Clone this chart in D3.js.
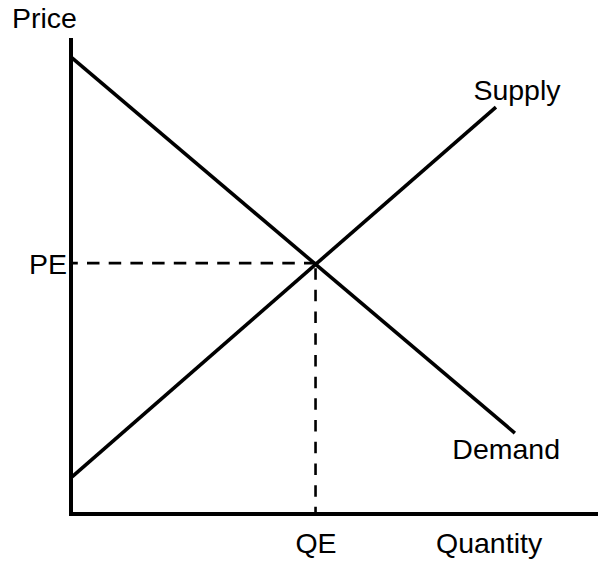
<!DOCTYPE html>
<html><head><meta charset="utf-8">
<script src="https://cdn.jsdelivr.net/npm/d3@7"></script>
<style>html,body{margin:0;padding:0;background:#fff;}svg{display:block;}</style>
</head><body>
<script>
// Data (quantity, price) in abstract units 0..100
const demand = [[0, 95.8], [84.2, 17.0]];
const supply = [[0, 7.8], [80.6, 85.5]];
const equilibrium = {q: 46.3, p: 52.7};
const priceTicks = [{v: 52.7, label: "PE"}];
const quantityTicks = [{v: 46.3, label: "QE"}];
const curveLabels = [{name: "Supply", q: 76.5, p: 87}, {name: "Demand", q: 72.5, p: 11.5}];

const W = 613, H = 578;
const svg = d3.select("body").append("svg").attr("width", W).attr("height", H);
const x = d3.scaleLinear().domain([0, 100]).range([72, 598]);
const y = d3.scaleLinear().domain([0, 100]).range([514, 38]);
const font = "Liberation Sans, Arial, sans-serif";
const fs = 28.5;

// axes
const xAxis = d3.axisBottom(x).tickValues(quantityTicks.map(d => d.v))
  .tickFormat((d, i) => quantityTicks[i].label).tickSize(0).tickSizeOuter(0).tickPadding(19);
const yAxis = d3.axisLeft(y).tickValues(priceTicks.map(d => d.v))
  .tickFormat((d, i) => priceTicks[i].label).tickSize(0).tickSizeOuter(0).tickPadding(4);

const gx = svg.append("g").attr("transform", `translate(0,${y(0)})`).call(xAxis);
const gy = svg.append("g").attr("transform", `translate(${x(0) - 1},0)`).call(yAxis);
[gx, gy].forEach(g => {
  g.select(".domain").attr("stroke", "#000").attr("stroke-width", 4);
  g.selectAll("text").attr("font-family", font).attr("font-size", fs).attr("fill", "#000");
});
gx.select(".domain").attr("d", `M${x(0) - 3},0H${x(100)}`);
gy.select(".domain").attr("d", `M0,${y(100)}V${y(0) + 2}`);
gy.selectAll("text").attr("dy", "0.35em");
gx.selectAll("text").attr("dy", "0.71em");

// dashed guides
svg.append("line").attr("x1", x(0)).attr("x2", x(equilibrium.q))
  .attr("y1", y(equilibrium.p)).attr("y2", y(equilibrium.p))
  .attr("stroke", "#000").attr("stroke-width", 2.6)
  .attr("stroke-dasharray", "12.5,9.2").attr("stroke-dashoffset", 6.7);
svg.append("line").attr("x1", x(equilibrium.q)).attr("x2", x(equilibrium.q))
  .attr("y1", y(equilibrium.p)).attr("y2", y(0))
  .attr("stroke", "#000").attr("stroke-width", 2.6)
  .attr("stroke-dasharray", "11.5,10.2").attr("stroke-dashoffset", 16.7);

// curves
const line = d3.line().x(d => x(d[0])).y(d => y(d[1]));
[demand, supply].forEach(d => {
  svg.append("path").datum(d).attr("d", line).attr("fill", "none")
    .attr("stroke", "#000").attr("stroke-width", 3.6);
});

// labels
svg.append("text").attr("x", 12).attr("y", 28).text("Price")
  .attr("font-family", font).attr("font-size", fs);
svg.append("text").attr("x", 436).attr("y", 553).text("Quantity")
  .attr("font-family", font).attr("font-size", fs);
curveLabels.forEach(c => {
  svg.append("text").attr("x", x(c.q) - 1).attr("y", y(c.p)).text(c.name)
    .attr("font-family", font).attr("font-size", fs);
});
</script>
</body></html>
